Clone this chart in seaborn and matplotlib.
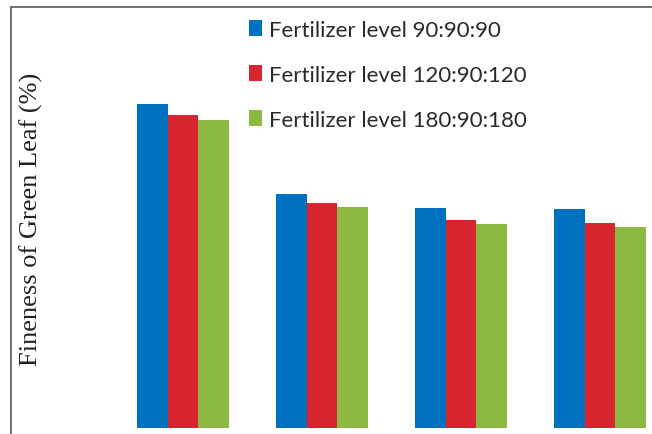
import pandas as pd
import seaborn as sns
import matplotlib.pyplot as plt

# Data (no tick labels shown, values estimated in %)
groups = ["G1", "G2", "G3", "G4"]
levels = ["Fertilizer level 90:90:90",
          "Fertilizer level 120:90:120",
          "Fertilizer level 180:90:180"]
level_90 = [77.0, 55.6, 52.3, 52.0]
level_120 = [74.3, 53.4, 49.4, 48.7]
level_180 = [73.2, 52.5, 48.5, 47.7]

colors = ["#0070C0", "#D7242E", "#8DB842"]

rows = []
for lvl, vals in zip(levels, [level_90, level_120, level_180]):
    for g, v in zip(groups, vals):
        rows.append({"group": g, "level": lvl, "value": v})
df = pd.DataFrame(rows)

sns.set_style("white")

fig = plt.figure(figsize=(6.52, 4.35), dpi=100)
ax = fig.add_axes([11/652, -5/435, 1 - 11/652, 432/435])

sns.barplot(
    data=df, x="group", y="value", hue="level",
    palette=colors, width=0.66, gap=0, saturation=1,
    linewidth=0, ax=ax
)

ax.set_ylim(-2.61, 100)
ax.set_xlim(-1.237, 3.374)
ax.set_xticks([])
ax.set_yticks([])
ax.set_xlabel("")

ax.set_ylabel("Fineness of Green Leaf (%)", family="Liberation Serif",
              fontsize=19, color="#222222")
ax.yaxis.set_label_coords(0.05, 0.51)

for side in ["right", "bottom"]:
    ax.spines[side].set_visible(False)
for side in ["top", "left"]:
    ax.spines[side].set_color("#707070")
    ax.spines[side].set_linewidth(1.4)

handles, labels = ax.get_legend_handles_labels()
ax.legend(
    handles, labels, loc="upper left", bbox_to_anchor=(0.371, 0.97),
    frameon=False, borderpad=0, borderaxespad=0,
    handlelength=0.6, handleheight=0.75, handletextpad=0.3,
    labelspacing=1.12, prop={"family": "Lato", "size": 16},
    labelcolor="#2a2a2a"
)

plt.savefig("out.png", dpi=100)
